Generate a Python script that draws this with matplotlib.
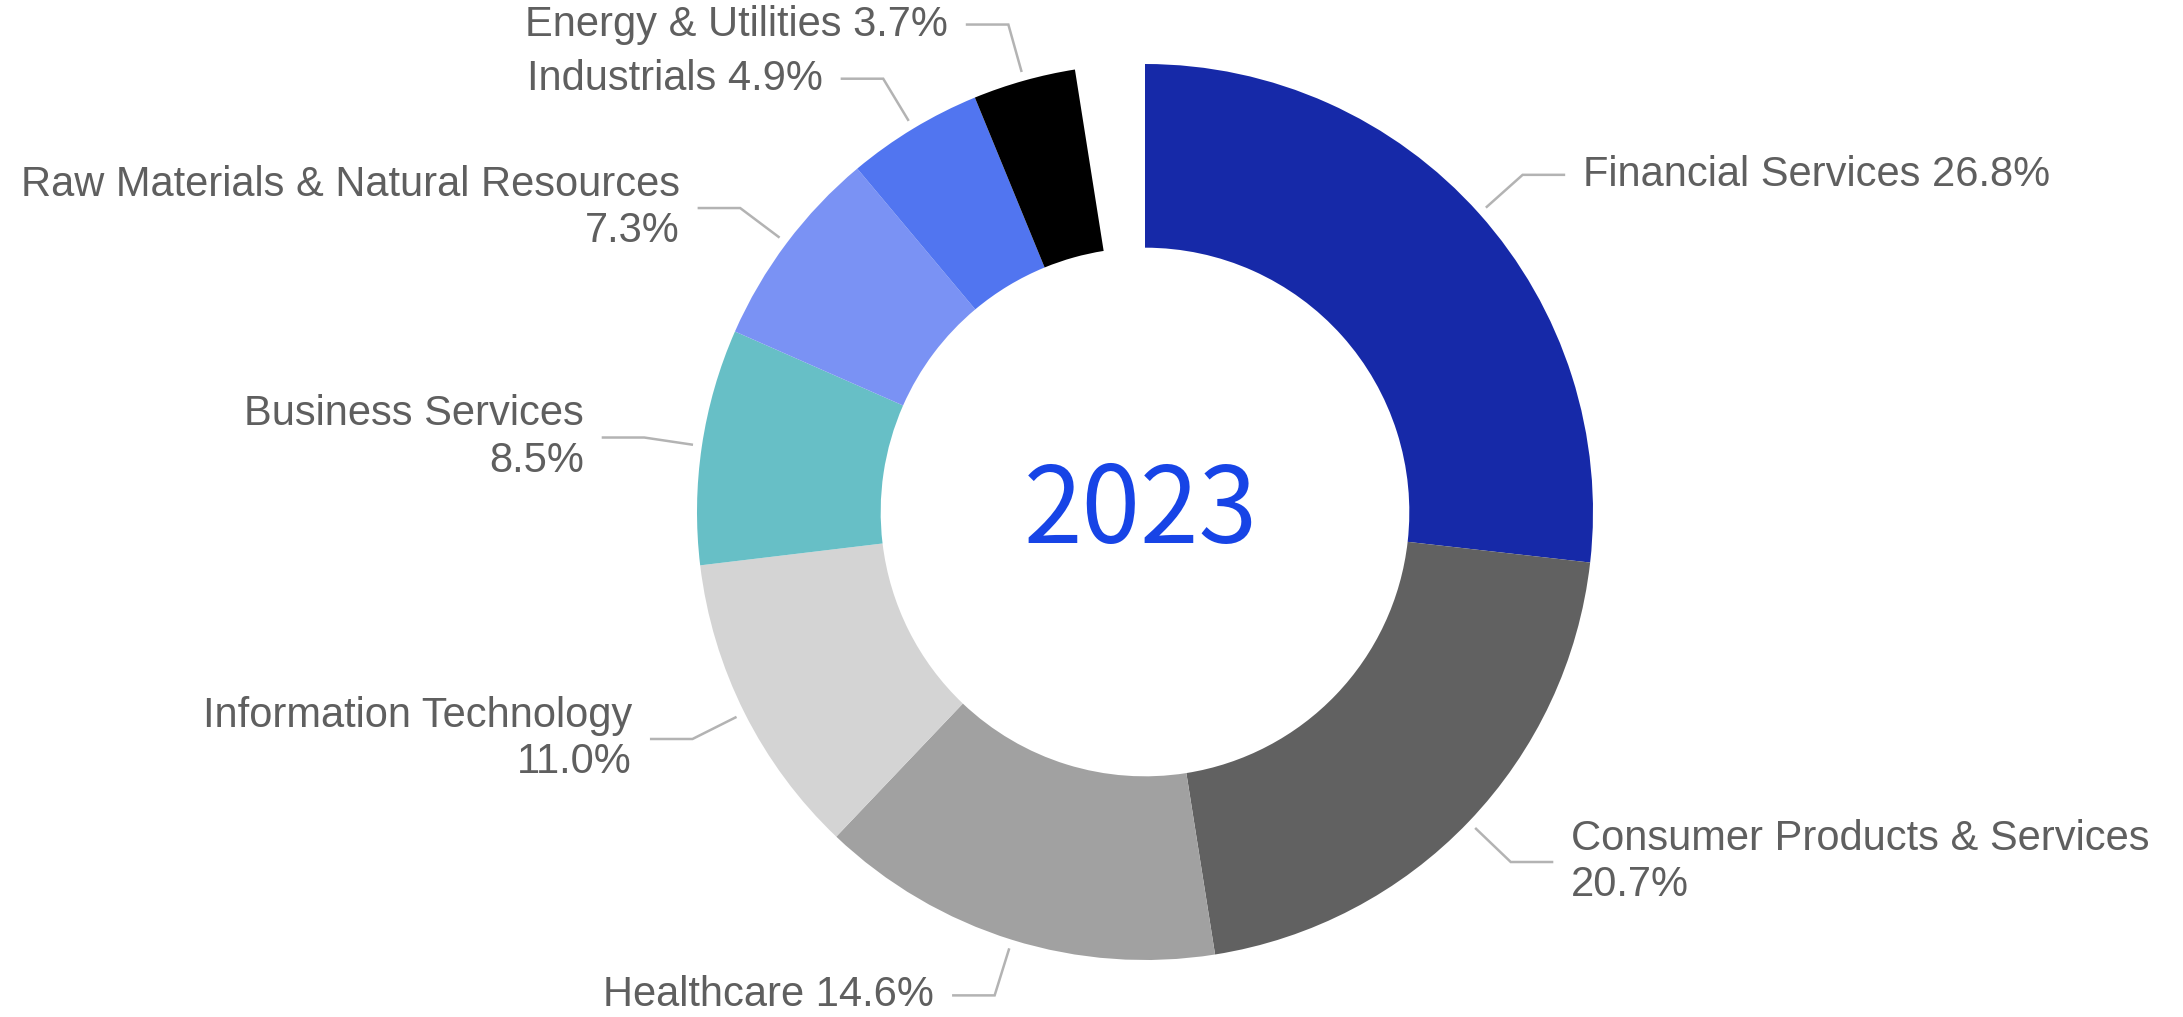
import numpy as np
from matplotlib import pyplot as plt

# sector shares for 2023 (percent); the rest of the ring stays empty
sectors = ['Financial Services', 'Consumer Products & Services', 'Healthcare',
           'Information Technology', 'Business Services',
           'Raw Materials & Natural Resources', 'Industrials', 'Energy & Utilities']
shares = [26.8, 20.7, 14.6, 11.0, 8.5, 7.3, 4.9, 3.7]
colors = ['#1629A8', '#616161', '#A1A1A1', '#D4D4D4', '#67BFC6',
          '#7A92F4', '#5175F0', '#000000']
year = '2023'

# labels that put the percentage on a second line
two_line = {'Consumer Products & Services', 'Information Technology',
            'Business Services', 'Raw Materials & Natural Resources'}

W, H = 2183, 1017
cx, cy, R = 1145, 512, 448  # pie centre and radius in pixels

fig = plt.figure(figsize=(W / 100, H / 100), dpi=100)
ax = fig.add_axes([0, 0, 1, 1])

wedges, _ = ax.pie([s / 100 for s in shares], colors=colors, startangle=90,
                   counterclock=False, normalize=False, radius=1.0,
                   wedgeprops=dict(width=0.41, linewidth=0))

# pie() resets the limits, so set them afterwards
ax.set_aspect('auto')
ax.set_xlim(-cx / R, (W - cx) / R)
ax.set_ylim(-(H - cy) / R, cy / R)
ax.axis('off')

label_font = ['Liberation Sans', 'DejaVu Sans']
for w, name, s in zip(wedges, sectors, shares):
    mid = np.deg2rad((w.theta1 + w.theta2) / 2)
    c, sn = np.cos(mid), np.sin(mid)
    x0, y0 = 1.02 * c, 1.02 * sn
    x1, y1 = 1.13 * c, 1.13 * sn
    side = 1 if c > 0 else -1
    x2 = x1 + side * 0.095
    ax.plot([x0, x1, x2], [y0, y1, y1], color='#B3B3B3', lw=1.8,
            solid_capstyle='butt', solid_joinstyle='miter')
    sep = '\n' if name in two_line else ' '
    ax.text(x2 + side * 0.04, y1, f'{name}{sep}{s:.1f}%',
            ha='left' if side > 0 else 'right', va='center',
            fontsize=30, color='#5F5F5F', family=label_font, linespacing=1.2)

ax.text(-0.01, -0.069, year, ha='center', va='baseline', fontsize=76,
        color='#1744E6', family=['Noto Sans CJK JP', 'DejaVu Sans'])

fig.savefig('out.png', dpi=100, facecolor='white')
